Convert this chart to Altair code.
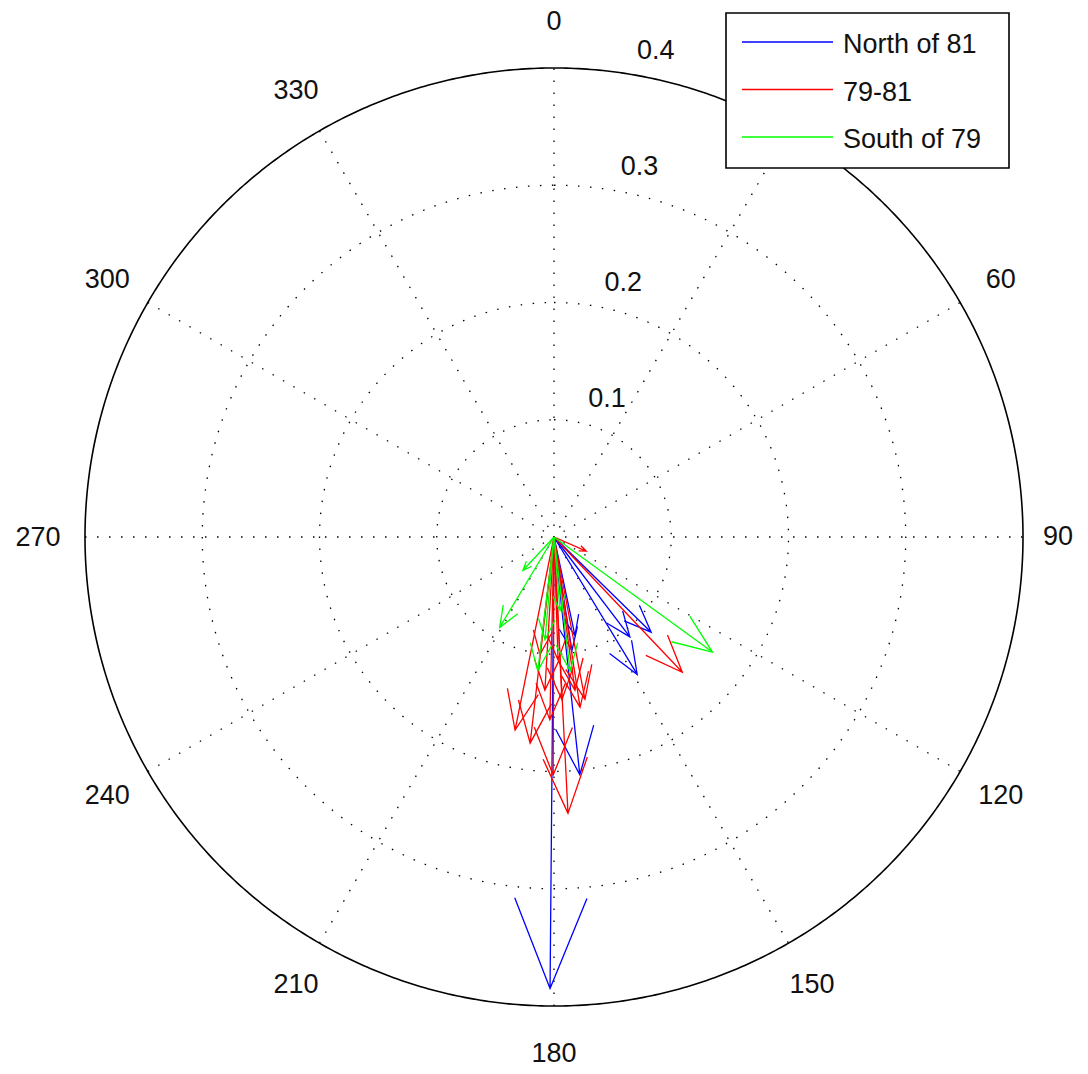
import altair as alt
import numpy as np
import pandas as pd

# ---------------- data ----------------
groups = ["North of 81", "79-81", "South of 79"]
colors = ["#0000FF", "#FF0000", "#00FF00"]

# compass vectors: direction in degrees clockwise from north, magnitude
north_angle = [180.5, 134.4, 142.8, 148.8, 173.8, 168.0, 171.0]
north_mag = [0.385, 0.116, 0.107, 0.137, 0.204, 0.086, 0.098]

mid_angle = [136.5, 113.6, 177.1, 180.2, 186.6, 191.4, 171.3,
             172.2, 177.2, 183.4, 178.1, 186.8, 169.2, 181.3]
mid_mag = [0.159, 0.030, 0.236, 0.203, 0.177, 0.168, 0.147,
           0.132, 0.139, 0.131, 0.105, 0.101, 0.141, 0.156]

south_angle = [126.0, 211.0, 223.0, 186.9, 173.1, 185.0, 175.3]
south_mag = [0.167, 0.090, 0.039, 0.115, 0.115, 0.088, 0.063]

ring_values = [0.1, 0.2, 0.3]
rmax = 0.4
spoke_angles = [0, 30, 60, 90, 120, 150]
angle_labels = [0, 30, 60, 90, 120, 150, 180, 210, 240, 270, 300, 330]

# ---------------- tables ----------------
# arrow drawn as polyline 0 -> tip -> wing -> tip -> wing (MATLAB compass style)
head_u = [0.0, 1.0, 0.8, 1.0, 0.8]
head_v = [0.0, 0.0, 0.08, 0.0, -0.08]

rows = []
vid = 0
for g, angs, mags in [(groups[0], north_angle, north_mag),
                      (groups[1], mid_angle, mid_mag),
                      (groups[2], south_angle, south_mag)]:
    for a, m in zip(angs, mags):
        t = np.deg2rad(a)
        for k, (u, v) in enumerate(zip(head_u, head_v)):
            x = m * (u * np.sin(t) + v * np.cos(t))
            y = m * (u * np.cos(t) - v * np.sin(t))
            rows.append({"vid": vid, "step": k, "group": g, "x": x, "y": y})
        vid += 1
arrows = pd.DataFrame(rows)

phi = np.linspace(0, 2 * np.pi, 721)
circ_rows = []
for r in ring_values + [rmax]:
    for k, p in enumerate(phi):
        circ_rows.append({"ring": r, "step": k, "x": r * np.sin(p), "y": r * np.cos(p)})
circles = pd.DataFrame(circ_rows)

spoke_rows = []
for a in spoke_angles:
    t = np.deg2rad(a)
    for k, s in enumerate([-1, 1]):
        spoke_rows.append({"a": a, "step": k, "x": s * rmax * np.sin(t), "y": s * rmax * np.cos(t)})
spokes = pd.DataFrame(spoke_rows)

alabels = pd.DataFrame({
    "ang": angle_labels,
    "lab": [str(a) for a in angle_labels],
    "x": [1.1 * rmax * np.sin(np.deg2rad(a)) for a in angle_labels],
    "y": [1.1 * rmax * np.cos(np.deg2rad(a)) for a in angle_labels],
})
rlabs = ring_values + [rmax]
rlabels = pd.DataFrame({
    "lab": [f"{r:.1f}" for r in rlabs],
    "x": [(r + rmax / 80) * np.sin(np.deg2rad(8)) for r in rlabs],
    "y": [(r + rmax / 80) * np.cos(np.deg2rad(8)) for r in rlabs],
})
legend_df = pd.DataFrame({"group": groups, "i": list(range(len(groups)))})

# ---------------- scales ----------------
W, H = 1072, 1063
S = 469 / rmax
cx, cy = 546, 529
xs = alt.Scale(domain=[-cx / S, (W - cx) / S], nice=False, zero=False)
ys = alt.Scale(domain=[-(H - cy) / S, cy / S], nice=False, zero=False)
X = alt.X("x:Q", scale=xs, axis=None)
Y = alt.Y("y:Q", scale=ys, axis=None)
cscale = alt.Scale(domain=groups, range=colors)
FONT = "Liberation Sans"

inner = alt.Chart(circles).transform_filter(alt.datum.ring < rmax - 1e-9).mark_line(
    color="#000000", strokeWidth=1.3, strokeDash=[1.5, 10.5]
).encode(x=X, y=Y, detail="ring:N", order="step:Q")

outer = alt.Chart(circles).transform_filter(alt.datum.ring > rmax - 1e-9).mark_line(
    color="#000000", strokeWidth=1.6
).encode(x=X, y=Y, detail="ring:N", order="step:Q")

spk = alt.Chart(spokes).mark_line(
    color="#000000", strokeWidth=1.3, strokeDash=[1.5, 10.5]
).encode(x=X, y=Y, detail="a:N", order="step:Q")

arr = alt.Chart(arrows).mark_line(strokeWidth=1.3, strokeJoin="miter").encode(
    x=X, y=Y, detail="vid:N", order="step:Q",
    color=alt.Color("group:N", scale=cscale, legend=None),
)

atext = alt.Chart(alabels).transform_filter(alt.datum.ang != 90).mark_text(
    font=FONT, fontSize=27, color="#111111", align="center", baseline="middle", dy=1
).encode(x=X, y=Y, text="lab:N")

atext90 = alt.Chart(alabels).transform_filter(alt.datum.ang == 90).mark_text(
    font=FONT, fontSize=27, color="#111111", align="center", baseline="middle", dx=-12
).encode(x=X, y=Y, text="lab:N")

rtext = alt.Chart(rlabels).mark_text(
    font=FONT, fontSize=27, color="#111111", align="left", baseline="bottom", dx=17, dy=-2
).encode(x=X, y=Y, text="lab:N")

# manual legend box (MATLAB style)
lbox = alt.Chart(pd.DataFrame({"k": [0]})).mark_rect(
    fill="white", stroke="black", strokeWidth=1.6
).encode(x=alt.value(718), x2=alt.value(1001), y=alt.value(5), y2=alt.value(160))

lbase = alt.Chart(legend_df).transform_calculate(ly="34 + 47.5 * datum.i")
lrule = lbase.mark_rule(strokeWidth=1.6).encode(
    x=alt.value(734), x2=alt.value(825), y=alt.Y("ly:Q", scale=None, axis=None),
    color=alt.Color("group:N", scale=cscale, legend=None),
)
ltext = lbase.mark_text(
    font=FONT, fontSize=27, color="#111111", align="left", baseline="middle", dy=3
).encode(x=alt.value(835), y=alt.Y("ly:Q", scale=None, axis=None), text="group:N")

chart = alt.layer(inner, outer, spk, arr, atext, atext90, rtext, lbox, lrule, ltext).properties(
    width=W, height=H, padding=0, autosize=alt.AutoSizeParams(type="none"),
    background="white",
).configure_view(strokeWidth=0)

chart.save("out.html", embed_options={"renderer": "svg", "actions": False})
